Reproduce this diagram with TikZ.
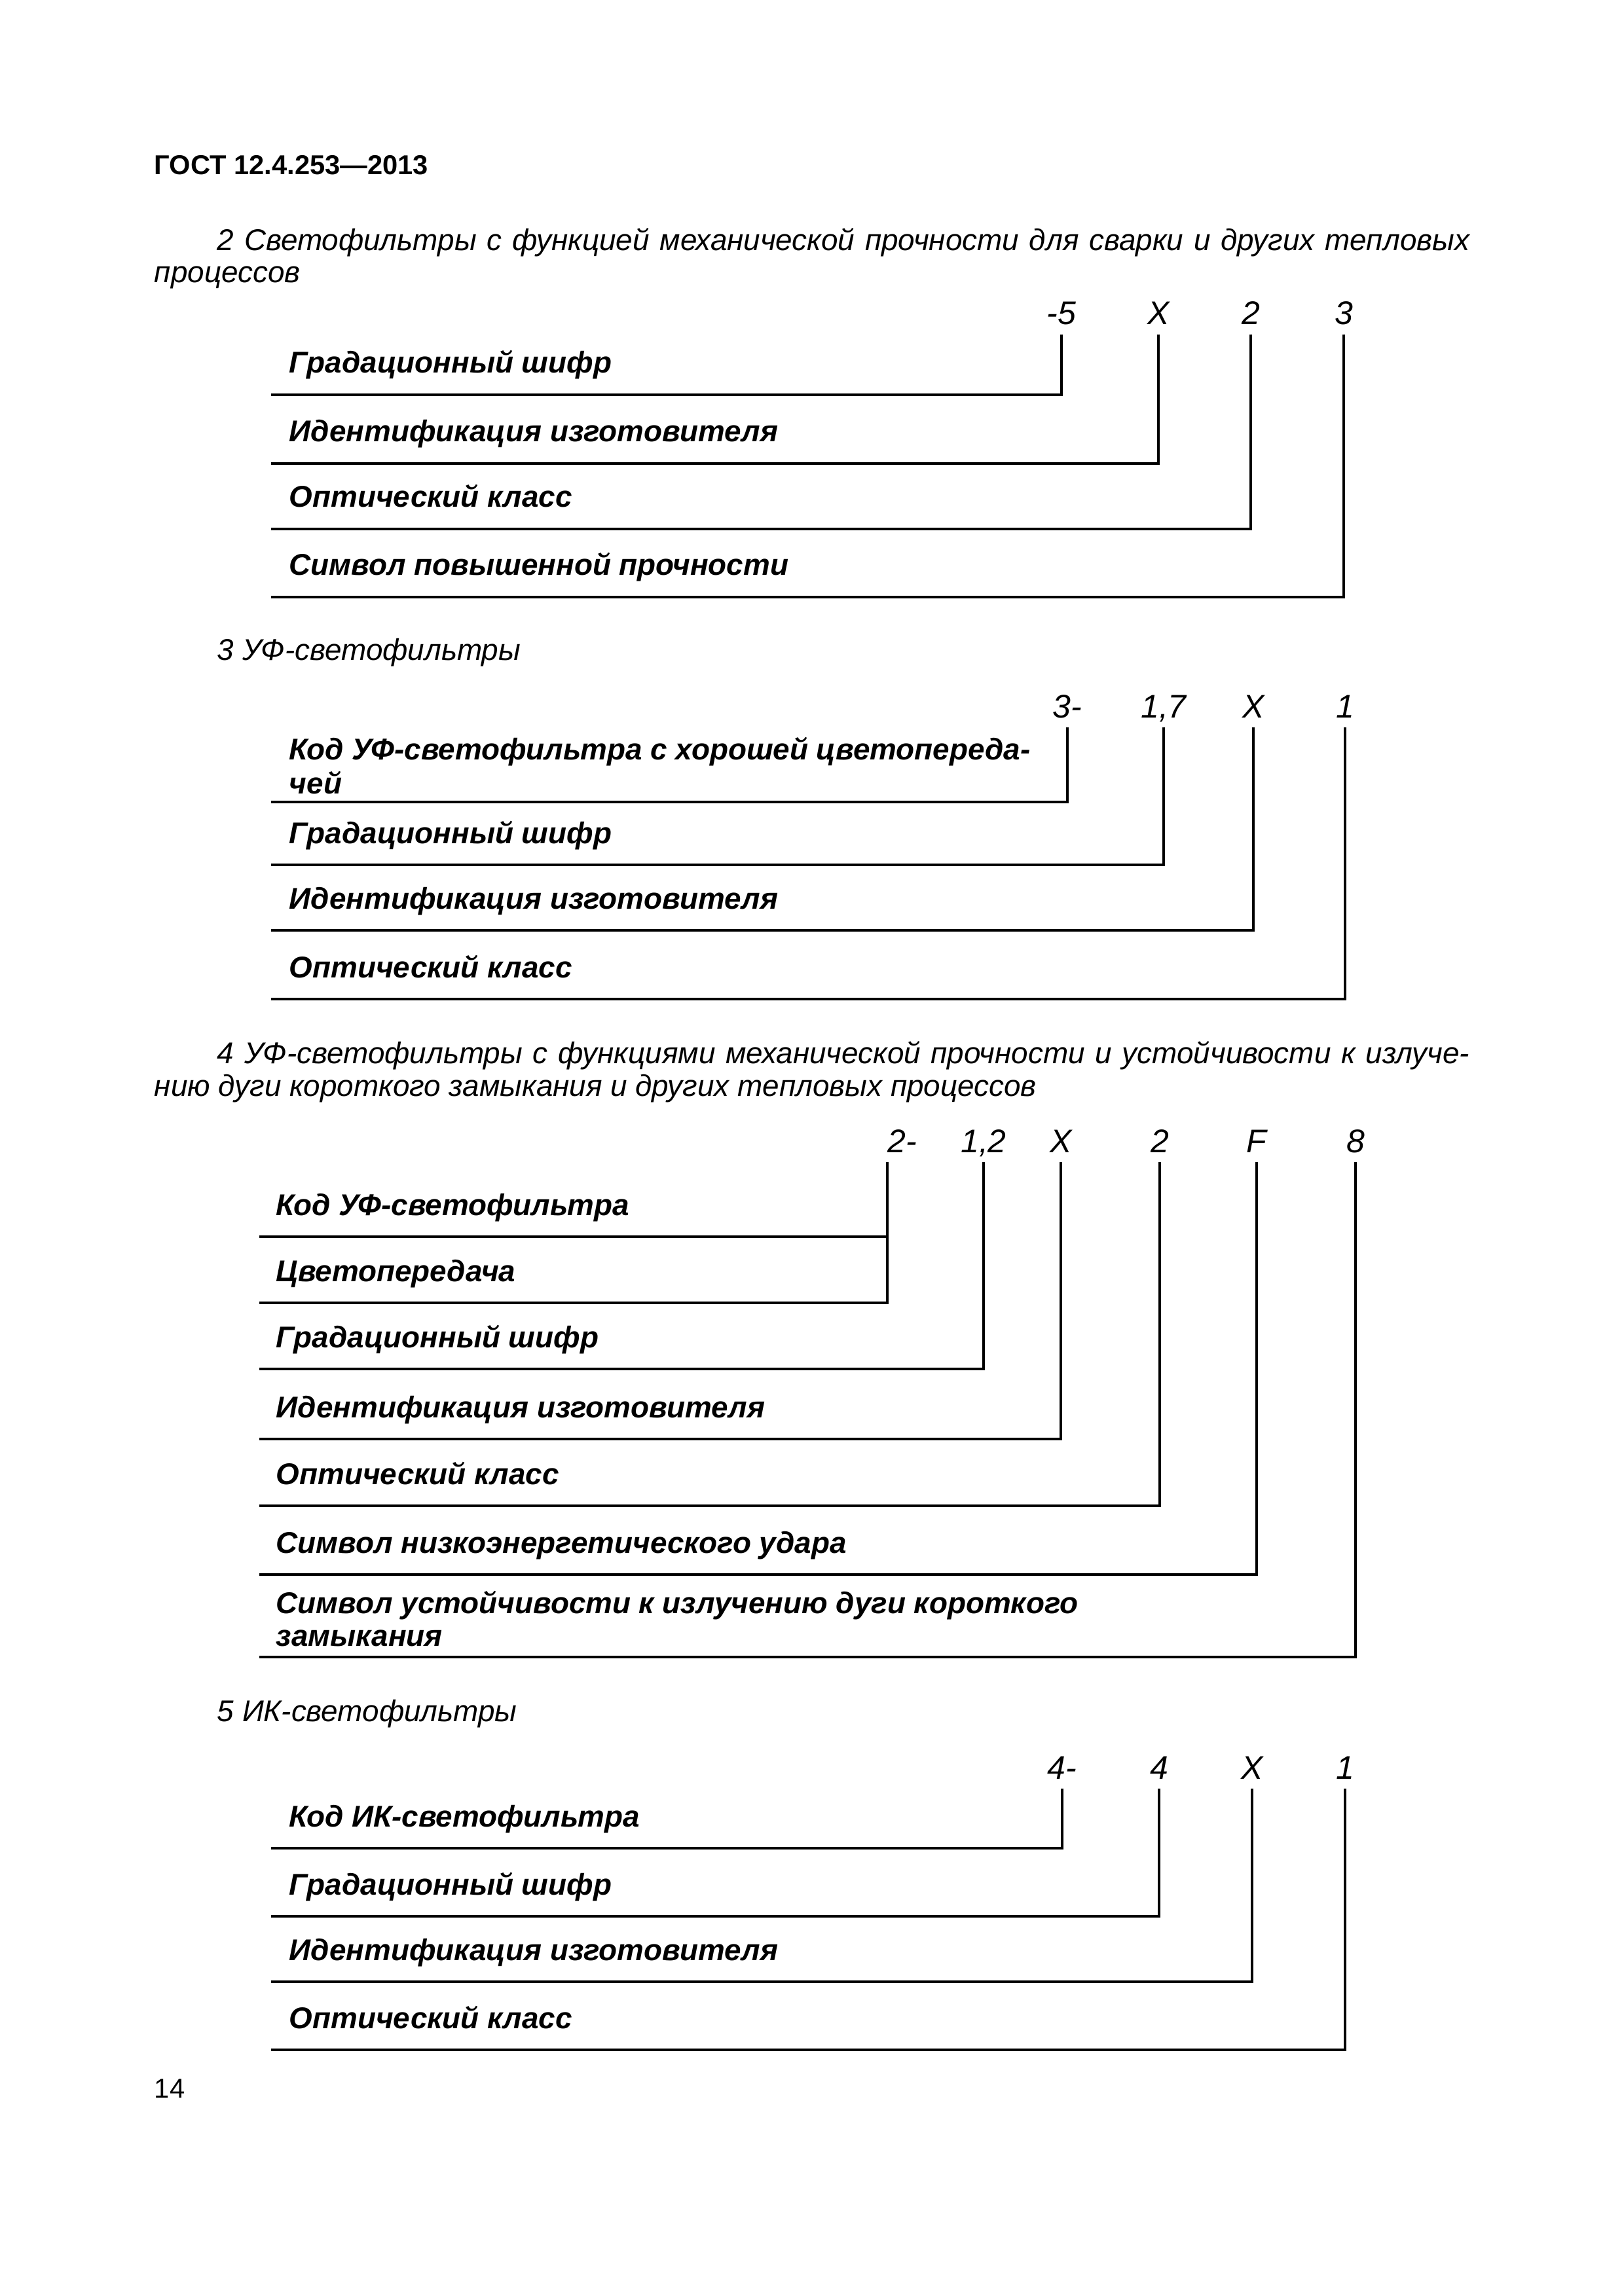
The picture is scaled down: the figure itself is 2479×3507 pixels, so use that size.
\documentclass[tikz,border=0pt]{standalone}
\usepackage{fontspec}
\setmainfont{Liberation Sans}
\begin{document}
\begin{tikzpicture}[x=0.24pt,y=-0.24pt,
  lbl/.style={anchor=base west,inner sep=0pt,font=\fontsize{11}{13}\selectfont\bfseries\itshape},
  code/.style={anchor=base,inner xsep=0pt,inner ysep=3.3pt,text depth=0pt,font=\fontsize{12}{14}\selectfont\itshape},
  para/.style={anchor=base west,inner sep=0pt,font=\fontsize{11}{13}\selectfont\itshape},
  lead/.style={line width=0.85pt}]
  \useasboundingbox (0,0) rectangle (2479,3507);
  \node[anchor=base west,inner sep=0pt,font=\fontsize{10}{12}\selectfont\bfseries] (gost) at (235,267) {ГОСТ 12.4.253—2013};

  % 2 welding filters
  \node[para] (p2a) at (331,383) {\makebox[459pt][s]{2 Светофильтры с функцией механической прочности для сварки и других тепловых}};
  \node[para] (p2b) at (235,432) {процессов};
  \node[code] (c21) at (1621,496) {-5};
  \node[code] (c22) at (1769,496) {X};
  \node[code] (c23) at (1910,496) {2};
  \node[code] (c24) at (2052,496) {3};
  \node[lbl] (n21) at (441,570) {Градационный шифр};
  \node[lbl] (n22) at (441,675) {Идентификация изготовителя};
  \node[lbl] (n23) at (441,775) {Оптический класс};
  \node[lbl] (n24) at (441,879) {Символ повышенной прочности};
  \coordinate (e21) at (414,603);
  \coordinate (e22) at (414,708);
  \coordinate (e23) at (414,808);
  \coordinate (e24) at (414,912);
  \draw[lead] (c21.south) |- (e21);
  \draw[lead] (c22.south) |- (e22);
  \draw[lead] (c23.south) |- (e23);
  \draw[lead] (c24.south) |- (e24);

  % 3 UV filters
  \node[para] (p3) at (331,1009) {3 УФ-светофильтры};
  \node[code] (c31) at (1630,1096) {3-};
  \node[code] (c32) at (1777,1096) {1,7};
  \node[code] (c33) at (1914,1096) {X};
  \node[code] (c34) at (2054,1096) {1};
  \node[lbl] (n31a) at (441,1160) {Код УФ-светофильтра с хорошей цветопереда-};
  \node[lbl] (n31b) at (441,1212) {чей};
  \node[lbl] (n32) at (441,1288) {Градационный шифр};
  \node[lbl] (n33) at (441,1388) {Идентификация изготовителя};
  \node[lbl] (n34) at (441,1493) {Оптический класс};
  \coordinate (e31) at (414,1225);
  \coordinate (e32) at (414,1321);
  \coordinate (e33) at (414,1421);
  \coordinate (e34) at (414,1526);
  \draw[lead] (c31.south) |- (e31);
  \draw[lead] (c32.south) |- (e32);
  \draw[lead] (c33.south) |- (e33);
  \draw[lead] (c34.south) |- (e34);

  % 4 UV filters, short circuit arc
  \node[para] (p4a) at (331,1624) {\makebox[459pt][s]{4 УФ-светофильтры с функциями механической прочности и устойчивости к излуче-}};
  \node[para] (p4b) at (235,1674) {нию дуги короткого замыкания и других тепловых процессов};
  \node[code,anchor=base west] (c41) at (1355,1760) {2-};
  \node[code] (c42) at (1502,1760) {1,2};
  \node[code] (c43) at (1620,1760) {X};
  \node[code] (c44) at (1771,1760) {2};
  \node[code] (c45) at (1919,1760) {F};
  \node[code] (c46) at (2070,1760) {8};
  \node[lbl] (n41) at (421,1856) {Код УФ-светофильтра};
  \node[lbl] (n42) at (421,1957) {Цветопередача};
  \node[lbl] (n43) at (421,2058) {Градационный шифр};
  \node[lbl] (n44) at (421,2165) {Идентификация изготовителя};
  \node[lbl] (n45) at (421,2267) {Оптический класс};
  \node[lbl] (n46) at (421,2372) {Символ низкоэнергетического удара};
  \node[lbl] (n47a) at (421,2464) {Символ устойчивости к излучению дуги короткого};
  \node[lbl] (n47b) at (421,2514) {замыкания};
  \coordinate (e41) at (396,1889);
  \coordinate (e42) at (396,1990);
  \coordinate (e43) at (396,2091);
  \coordinate (e44) at (396,2198);
  \coordinate (e45) at (396,2300);
  \coordinate (e46) at (396,2405);
  \coordinate (e47) at (396,2531);
  \draw[lead] (c41.south west) |- (e41);
  \draw[lead] (c41.south west) |- (e42);
  \draw[lead] (c42.south) |- (e43);
  \draw[lead] (c43.south) |- (e44);
  \draw[lead] (c44.south) |- (e45);
  \draw[lead] (c45.south) |- (e46);
  \draw[lead] (c46.south) |- (e47);

  % 5 IR filters
  \node[para] (p5) at (331,2629) {5 ИК-светофильтры};
  \node[code] (c51) at (1622,2717) {4-};
  \node[code] (c52) at (1770,2717) {4};
  \node[code] (c53) at (1912,2717) {X};
  \node[code] (c54) at (2054,2717) {1};
  \node[lbl] (n51) at (441,2790) {Код ИК-светофильтра};
  \node[lbl] (n52) at (441,2894) {Градационный шифр};
  \node[lbl] (n53) at (441,2994) {Идентификация изготовителя};
  \node[lbl] (n54) at (441,3098) {Оптический класс};
  \coordinate (e51) at (414,2823);
  \coordinate (e52) at (414,2927);
  \coordinate (e53) at (414,3027);
  \coordinate (e54) at (414,3131);
  \draw[lead] (c51.south) |- (e51);
  \draw[lead] (c52.south) |- (e52);
  \draw[lead] (c53.south) |- (e53);
  \draw[lead] (c54.south) |- (e54);

  \node[anchor=base west,inner sep=0pt,font=\fontsize{10}{12}\selectfont] (pg) at (235,3204) {14};
\end{tikzpicture}
\end{document}
